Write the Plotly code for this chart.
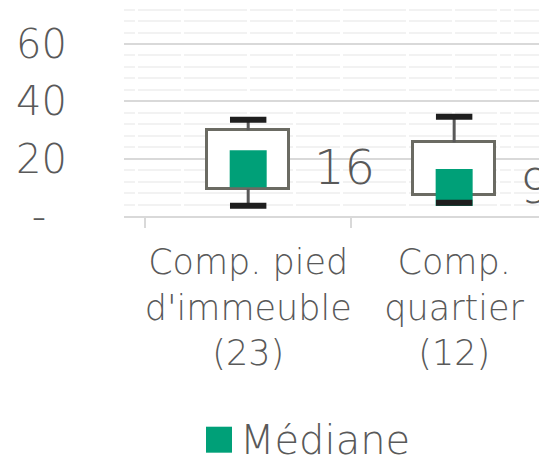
import plotly.graph_objects as go

# ---- data ----
categories = ["Comp. pied<br>d'immeuble<br>(23)", "Comp.<br>quartier<br>(12)"]
whisker_low = [3.6, 4.6]
q1 = [9.45, 7.35]
median = [16.5, 9.9]
q3 = [29.9, 25.7]
whisker_high = [33.6, 34.6]
median_labels = ["16", "9"]
y_tickvals = [0, 20, 40, 60]
y_ticktext = ["-\u00a0\u2009", "20", "40", "60"]
legend_label = "Médiane"

FONT = "DejaVu Sans"
TXT = "#595959"
GREEN = "#00a078"

fig = go.Figure()

# boxes (Q1 -> Q3)
fig.add_trace(go.Bar(
    x=categories, y=[b - a for a, b in zip(q1, q3)], base=q1,
    width=0.401,
    marker=dict(color="white", line=dict(color="#6b6b63", width=3)),
    showlegend=False, hoverinfo="skip",
))

# whisker lines
wx, wy = [], []
for c, lo, a, b, hi in zip(categories, whisker_low, q1, q3, whisker_high):
    wx += [c, c, None, c, c, None]
    wy += [b, hi, None, a, lo, None]
fig.add_trace(go.Scatter(
    x=wx, y=wy, mode="lines", line=dict(color="#595959", width=3),
    showlegend=False, hoverinfo="skip",
))

# median markers
fig.add_trace(go.Scatter(
    x=categories, y=median, mode="markers",
    marker=dict(symbol="square", size=37, color=GREEN, line=dict(width=0)),
    name=legend_label, showlegend=False, hoverinfo="skip",
))

# whisker caps
fig.add_trace(go.Scatter(
    x=categories + categories, y=whisker_high + whisker_low, mode="markers",
    marker=dict(symbol="line-ew", size=26, line=dict(color="#1e1e1e", width=6)),
    showlegend=False, hoverinfo="skip",
))

# median labels
for c, m, t in zip(categories, median, median_labels):
    fig.add_annotation(
        x=c, y=m, text=t, showarrow=False, xanchor="left", yanchor="middle",
        xshift=64, yshift=2, font=dict(family=FONT, size=48, color=TXT, weight=300),
    )

# manual legend
fig.add_shape(type="rect", xref="paper", yref="paper",
              x0=0.1976, x1=0.2602, y0=-1.0958, y1=-0.9755,
              fillcolor=GREEN, line=dict(width=0))
fig.add_annotation(xref="paper", yref="paper", x=0.2747, y=-1.035,
                   xanchor="left", yanchor="middle", showarrow=False,
                   text=legend_label, height=34, valign="middle",
                   font=dict(family=FONT, size=40, color=TXT, weight=300))

fig.update_layout(
    width=539, height=457,
    margin=dict(l=124, r=0, t=0, b=241, autoexpand=False),
    paper_bgcolor="white", plot_bgcolor="white",
    font=dict(family=FONT, color=TXT, weight=300),
    bargap=0,
)
fig.update_xaxes(
    type="category", range=[-0.603, 1.412], automargin=False, tickangle=0,
    showline=True, linecolor="#d9d9d9", linewidth=2,
    ticks="outside", tickson="boundaries", ticklen=10, tickwidth=2, tickcolor="#d9d9d9",
    ticklabelstandoff=14,
    tickfont=dict(family=FONT, size=35, color=TXT, weight=300),
    showgrid=False, zeroline=False,
)
fig.update_yaxes(
    range=[0, 75.35], automargin=False,
    tickvals=y_tickvals, ticktext=y_ticktext,
    tickfont=dict(family=FONT, size=40, color=TXT, weight=300),
    ticks="", ticklabelstandoff=56,
    showgrid=True, gridcolor="#d9d9d9", gridwidth=2,
    zeroline=False, showline=False,
    minor=dict(dtick=4, tick0=0, showgrid=True, gridcolor="#f2f2f2", gridwidth=2,
               griddash="11px,3px,43px,3px,63px,3px,43px,3px,44px,3px,63px,3px,43px,3px,42px,3px"),
)

fig.write_html("out.html", config={"displayModeBar": False},
               post_script="document.body.style.margin='0';")
